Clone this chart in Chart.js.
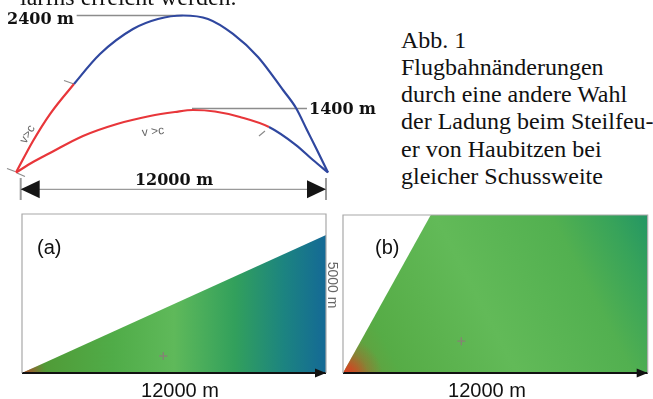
<!DOCTYPE html>
<html>
<head>
<meta charset="utf-8">
<script src="https://cdn.jsdelivr.net/npm/chart.js@4.4.1/dist/chart.umd.min.js"></script>
<style>
  html, body { margin: 0; padding: 0; background: #fff; }
  #seite { position: relative; width: 653px; height: 399px; overflow: hidden; }
  canvas { position: absolute; }
  .t { position: absolute; white-space: nowrap; line-height: 1; }
  .serif { font-family: "Liberation Serif", "Times New Roman", serif; color: #111; }
  .mass { font-family: "DejaVu Serif", serif; font-weight: bold; font-size: 16px; color: #111; }
  .sans { font-family: "Liberation Sans", Arial, sans-serif; color: #111; }
  .vc { font-family: "Liberation Sans", Arial, sans-serif; font-size: 12px; color: #666; width: 30px; text-align: center; }
</style>
</head>
<body>
<div id="seite">
  <canvas id="bahn" width="340" height="200" style="left:0;top:0"></canvas>
  <canvas id="feldA" width="340" height="175" style="left:0;top:205px"></canvas>
  <canvas id="feldB" width="318" height="175" style="left:335px;top:205px"></canvas>

  <div class="t serif" style="left:20px;top:-15px;font-size:24px">larfns erreicht werden.</div>
  <div class="t mass" style="left:7px;top:10.5px">2400 m</div>
  <div class="t mass" style="left:309px;top:101px">1400 m</div>
  <div class="t mass" style="left:94px;top:171.5px;width:160px;text-align:center">12000 m</div>
  <div class="t vc" style="left:12px;top:128px;transform:rotate(-60deg)">v&gt;c</div>
  <div class="t vc" style="left:138px;top:125px;transform:rotate(-6deg)">v &gt;c</div>

  <div class="serif" style="position:absolute;left:401px;top:26.5px;font-size:24px;line-height:27.3px;white-space:nowrap">
    Abb. 1<br>Flugbahnänderungen<br>durch eine andere Wahl<br>der Ladung beim Steilfeu-<br>er von Haubitzen bei<br>gleicher Schussweite
  </div>

  <div class="t sans" style="left:37px;top:237px;font-size:20px">(a)</div>
  <div class="t sans" style="left:375px;top:237px;font-size:20px">(b)</div>
  <div class="t sans" style="left:100px;top:380px;width:160px;text-align:center;font-size:20px">12000 m</div>
  <div class="t sans" style="left:407px;top:380px;width:160px;text-align:center;font-size:20px">12000 m</div>
  <div class="t sans" style="left:303px;top:278px;width:60px;text-align:center;font-size:14px;color:#666;transform:rotate(90deg)">5000 m</div>
</div>

<script>
// Flugbahnen: Entfernung (m) und Höhe (m), Skizze nicht maßstäblich
const steilX = [0, 654, 1308, 2231, 3231, 4500, 5462, 6423, 7385, 8346, 9308, 10270, 10770, 11192, 11577, 12000];
const steilY = [0, 482, 894, 1353, 1812, 2194, 2347, 2400, 2347, 2118, 1766, 1261, 986, 650, 344, 0];
const flachX = [0, 654, 1308, 2577, 3885, 5154, 6115, 6808, 7654, 8615, 9731, 10770, 11423, 12000];
const flachY = [0, 161, 298, 558, 742, 864, 925, 956, 933, 849, 696, 420, 191, 0];
// bis hierher v > c (rot)
const ueberschallBis = [2231, 9731];

// kleine Markierungsstriche (je zwei Punkte)
const striche = [
  [[1846, 1407], [2231, 1353]],
  [[9346, 558], [9577, 634]],
  [[-346, 61], [-38, 15]],
  [[38, -8], [346, -61]]
];
// Höhenlinien zu den Beschriftungen
const hoehenLinien = [
  [[2334, 2400], [6411, 2400]],
  [[6769, 980], [11192, 980]]
];
// Maßlinie Schussweite
const massX = [181, 11923];
const massY = -257;
const massBalken = [-84, -420];

// Felder (a) und (b): Höhe 5000 m, Weite 12000 m
const feldBreite = 12000;
const feldHoehe = 5000;
const grenzeA = [[0, 0], [12000, 4340]];
const grenzeB = [[0, 0], [3456, 5000], [12000, 5000]];
const kreuzA = [[5578, 535]];
const kreuzB = [[4660, 1006]];

const ROT = '#e8363a';
const BLAU = '#2f479f';
const GRAU = '#8c8c8c';

const pkt = arr => arr.map(([x, y]) => ({ x, y }));
const mitLuecken = segs => segs.flatMap(s => [...pkt(s), { x: s[1][0], y: null }]);

const pfeilspitzen = {
  id: 'pfeilspitzen',
  afterDatasetsDraw(chart) {
    const c = chart.ctx;
    chart.data.datasets.forEach((ds, i) => {
      if (!ds.pfeil) return;
      const pts = chart.getDatasetMeta(i).data;
      const spitze = (a, b) => {
        const ang = Math.atan2(b.y - a.y, b.x - a.x);
        c.save();
        c.translate(b.x, b.y);
        c.rotate(ang);
        c.beginPath();
        c.moveTo(0, 0);
        c.lineTo(-ds.pfeil.laenge, -ds.pfeil.breite);
        c.lineTo(-ds.pfeil.laenge, ds.pfeil.breite);
        c.closePath();
        c.fillStyle = ds.pfeil.farbe;
        c.fill();
        c.restore();
      };
      const n = pts.length;
      spitze(pts[n - 2], pts[n - 1]);
      if (ds.pfeil.beide) spitze(pts[1], pts[0]);
    });
  }
};

// Rahmen links, oben, rechts (unten liegt die Achse)
const rahmen = {
  id: 'rahmen',
  afterDatasetsDraw(chart) {
    const { ctx, chartArea: a } = chart;
    ctx.save();
    ctx.strokeStyle = '#a8a8a8';
    ctx.lineWidth = 1.2;
    ctx.beginPath();
    ctx.moveTo(a.left, a.bottom);
    ctx.lineTo(a.left, a.top);
    ctx.lineTo(a.right, a.top);
    ctx.lineTo(a.right, a.bottom);
    ctx.stroke();
    ctx.restore();
  }
};

function basis(xMin, xMax, yMin, yMax, padding) {
  return {
    responsive: false,
    animation: false,
    events: [],
    layout: { padding },
    plugins: { legend: { display: false }, tooltip: { enabled: false } },
    elements: { point: { radius: 0 } },
    scales: {
      x: { type: 'linear', display: false, min: xMin, max: xMax },
      y: { type: 'linear', display: false, min: yMin, max: yMax }
    }
  };
}

function bahn(xs, ys, bis) {
  return {
    data: xs.map((x, i) => ({ x, y: ys[i] })),
    borderWidth: 2.2,
    borderColor: BLAU,
    cubicInterpolationMode: 'monotone',
    segment: { borderColor: ctx => xs[ctx.p0DataIndex] < bis ? ROT : BLAU },
    order: 0
  };
}

new Chart(document.getElementById('bahn'), {
  type: 'line',
  data: {
    datasets: [
      bahn(steilX, steilY, ueberschallBis[0]),
      bahn(flachX, flachY, ueberschallBis[1]),
      { data: mitLuecken(striche), borderColor: GRAU, borderWidth: 1.2, tension: 0, order: 1 },
      { data: mitLuecken(hoehenLinien), borderColor: GRAU, borderWidth: 1.5, tension: 0, order: 2 },
      {
        data: massX.map(x => ({ x, y: massY })),
        borderColor: '#9a9a9a', borderWidth: 1.3, tension: 0, order: 2,
        pfeil: { laenge: 19, breite: 9, farbe: '#151515', beide: true }
      },
      {
        data: mitLuecken(massX.map(x => [[x, massBalken[0]], [x, massBalken[1]]])),
        borderColor: '#9a9a9a', borderWidth: 2, tension: 0, order: 3
      }
    ]
  },
  options: basis(-615, 12462, -420, 2637, 0),
  plugins: [pfeilspitzen]
});

function verlauf(stops, richtung) {
  return ctx => {
    const a = ctx.chart.chartArea;
    if (!a) return 'rgba(0,0,0,0)';
    const g = richtung === 'diag'
      ? ctx.chart.ctx.createLinearGradient(a.left, a.bottom, a.right, a.top)
      : ctx.chart.ctx.createLinearGradient(a.left, 0, a.right, 0);
    stops.forEach(([p, c]) => g.addColorStop(p, c));
    return g;
  };
}

function ecke(farbe, radius) {
  return ctx => {
    const a = ctx.chart.chartArea;
    if (!a) return 'rgba(0,0,0,0)';
    const g = ctx.chart.ctx.createRadialGradient(a.left, a.bottom + 4, 0, a.left, a.bottom + 4, radius);
    g.addColorStop(0, `rgba(${farbe},1)`);
    g.addColorStop(0.3, `rgba(${farbe},0.75)`);
    g.addColorStop(0.65, `rgba(${farbe},0.25)`);
    g.addColorStop(1, `rgba(${farbe},0)`);
    return g;
  };
}

function feld(id, grenze, kreuz, stops, richtung, eckFarbe, eckRadius, padding) {
  new Chart(document.getElementById(id), {
    type: 'line',
    data: {
      datasets: [
        {
          data: [{ x: 0, y: 0 }, { x: feldBreite, y: 0 }],
          borderColor: '#111', borderWidth: 2, tension: 0, clip: false, order: 0,
          pfeil: { laenge: 11, breite: 4.5, farbe: '#111' }
        },
        {
          data: pkt(kreuz), showLine: false, pointStyle: 'cross', pointRadius: 4,
          pointBorderColor: 'rgba(150,110,130,0.7)', pointBorderWidth: 1.3, order: 1
        },
        { data: pkt(grenze), borderWidth: 0, fill: 'origin', backgroundColor: ecke(eckFarbe, eckRadius), order: 2 },
        { data: pkt(grenze), borderWidth: 0, fill: 'origin', backgroundColor: verlauf(stops, richtung), order: 3 }
      ]
    },
    options: basis(0, feldBreite, 0, feldHoehe, padding),
    plugins: [rahmen, pfeilspitzen]
  });
}

feld('feldA', grenzeA, kreuzA, [
  [0, 'rgb(140,110,50)'], [0.07, 'rgb(80,155,55)'], [0.3, 'rgb(80,172,72)'],
  [0.5, 'rgb(95,185,90)'], [0.7, 'rgb(50,160,92)'], [0.86, 'rgb(28,132,128)'], [1, 'rgb(20,105,150)']
], 'horiz', '165,80,40', 26, { left: 22, right: 14, top: 9, bottom: 7 });

feld('feldB', grenzeB, kreuzB, [
  [0, 'rgb(110,150,55)'], [0.15, 'rgb(86,172,70)'], [0.45, 'rgb(98,186,88)'],
  [0.75, 'rgb(82,176,80)'], [0.9, 'rgb(55,163,90)'], [1, 'rgb(35,150,100)']
], 'diag', '228,55,30', 40, { left: 8, right: 1, top: 10, bottom: 7 });
</script>
</body>
</html>
